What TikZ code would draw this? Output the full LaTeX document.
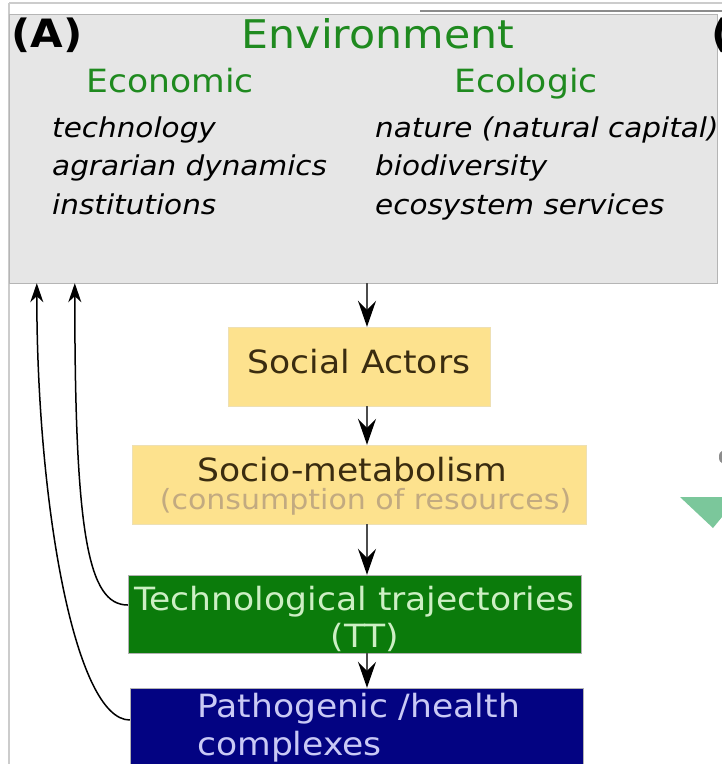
\documentclass[tikz,border=0pt]{standalone}
\usepackage{fontspec}
\setmainfont{DejaVu Sans}[FakeStretch=1.08]
\usetikzlibrary{arrows.meta, positioning, calc}

\definecolor{envgrey}{HTML}{E6E6E6}
\definecolor{envline}{HTML}{B5B5B5}
\definecolor{headgreen}{HTML}{1F8A1F}
\definecolor{actoryellow}{HTML}{FDE28E}
\definecolor{actorline}{HTML}{EEE0B4}
\definecolor{actortext}{HTML}{3A2C10}
\definecolor{consumtext}{HTML}{C2AA80}
\definecolor{ttgreen}{HTML}{0B7B0B}
\definecolor{tttext}{HTML}{CDEFC4}
\definecolor{phblue}{HTML}{030382}
\definecolor{phtext}{HTML}{C9C9F5}
\definecolor{trigreen}{HTML}{7BC79B}

\tikzset{
	stage/.style={rectangle, inner sep=0pt},
	lbl/.style={inner sep=0pt, anchor=base},
	flow/.style={-{Stealth[length=26pt, width=18pt, inset=9pt, black]}, line width=2.2pt, draw=black!70},
	back/.style={-{Stealth[length=19pt, width=13pt, inset=6pt]}, line width=1.5pt},
}

\begin{document}
\begin{tikzpicture}[x=1pt, y=-1pt, font=\fontsize{32}{38}\selectfont]
	\useasboundingbox (0,0) rectangle (722,764);
	\clip (0,0) rectangle (722,764);
	% frame lines of the page
	\draw[black!20, line width=1.5pt] (9,3) -- (722,3);
	\draw[black!45, line width=1.2pt] (420,11) -- (722,11);
	\draw[black!20, line width=1.5pt] (9,3) -- (9,764);

	% environment
	\node[stage, fill=envgrey, draw=envline, minimum width=708pt, minimum height=269pt] (env) at (363,148.5) {};
	\node[lbl, anchor=base west, font=\fontsize{39}{39}\selectfont\bfseries] (tagA) at (11,47) {(A)};
	\node[lbl, text=headgreen, font=\fontsize{39.5}{39}\selectfont] (envTitle) at (378,48) {Environment};
	\node[lbl, text=headgreen] (econ) at (170,92) {Economic};
	\node[lbl, text=headgreen] (ecol) at (526,92) {Ecologic};
	\foreach \i/\L/\R in {0/technology/nature (natural capital),
						  1/agrarian dynamics/biodiversity,
						  2/institutions/ecosystem services} {
		\node[lbl, anchor=base west, font=\fontsize{27.3}{30}\selectfont\itshape] (econItem\i) at (52,137+38.5*\i) {\L};
		\node[lbl, anchor=base west, font=\fontsize{27.3}{30}\selectfont\itshape] (ecolItem\i) at (375,137+38.5*\i) {\R};
	}

	% the chain of boxes
	\node[stage, fill=actoryellow, draw=actorline, minimum width=262pt, minimum height=79pt] (sa) at (359,366.5) {};
	\node[lbl, text=actortext] (saText) at (359,373) {Social Actors};

	\node[stage, fill=actoryellow, draw=actorline, minimum width=454pt, minimum height=79pt] (sm) at (359,484.5) {};
	\node[lbl, text=actortext] (smText) at (352.5,481) {Socio-metabolism};
	\node[lbl, text=consumtext, font=\fontsize{27.8}{30}\selectfont] (smSub) at (365.5,509) {(consumption of resources)};

	\node[stage, fill=ttgreen, draw=black!30, minimum width=453pt, minimum height=78pt] (tt) at (354.5,614) {};
	\node[lbl, text=tttext] (ttText) at (354.5,610) {Technological trajectories};
	\node[lbl, text=tttext] (ttSub) at (365,647) {(TT)};

	\node[stage, fill=phblue, draw=black!30, minimum width=453pt, minimum height=90pt] (ph) at (356.5,733) {};
	\node[lbl, anchor=base west, text=phtext] (phText) at (197,717) {Pathogenic /health};
	\node[lbl, anchor=base west, text=phtext] (phSub) at (197,755) {complexes};

	% arrows down the chain
	\coordinate (axis) at (367,0);
	\draw[flow] (env.south -| axis) -- (sa.north -| axis);
	\draw[flow] (sa.south -| axis) -- (sm.north -| axis);
	\draw[flow] (sm.south -| axis) -- (tt.north -| axis);
	\draw[flow] (tt.south -| axis) -- (ph.north -| axis);

	% feedback to the environment
	\draw[back] ([yshift=9pt]tt.west) .. controls +(-40,0) and +(0,250) .. ([xshift=66pt]env.south west);
	\draw[back] ([yshift=13pt]ph.west) .. controls +(-55,0) and +(0,220) .. ([xshift=28pt]env.south west);

	% cut-off pieces of the next panel
	\node[lbl, anchor=base west, font=\fontsize{39}{39}\selectfont\bfseries] (tagB) at (711,47) {(};
	\fill[black!45] (722,457) ellipse (3 and 6);
	\fill[trigreen] (680,497) -- (722,497) -- (722,517) -- (713,528) -- cycle;
\end{tikzpicture}
\end{document}
